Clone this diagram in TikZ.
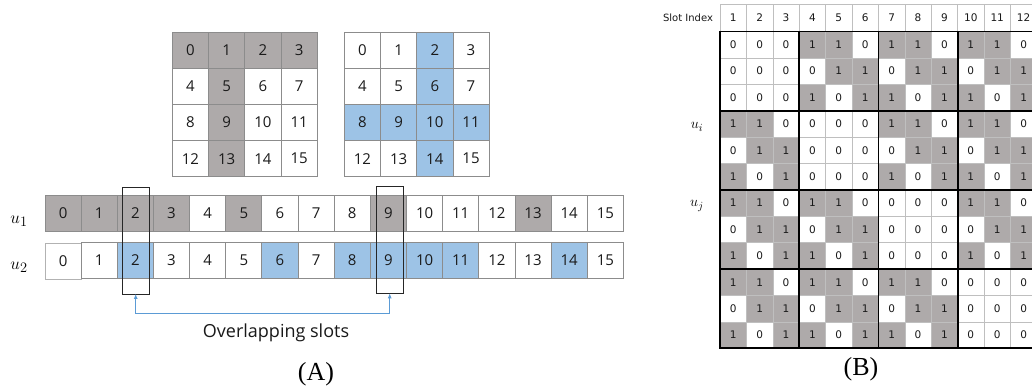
\documentclass[tikz,border=0pt]{standalone}
\usepackage{fontspec}
\setmainfont{Liberation Serif}
\newfontfamily\cellfont{Open Sans}
\newfontfamily\bfont{DejaVu Sans}
\usetikzlibrary{arrows.meta}
\definecolor{gcell}{HTML}{AEAAAA}
\definecolor{bcell}{HTML}{9DC3E6}
\definecolor{cline}{HTML}{8C8C8C}
\definecolor{arrowc}{HTML}{5B9BD5}
\definecolor{bline}{HTML}{BFBFBF}
\definecolor{txt}{HTML}{1A1A1A}
\tikzset{
  cellA/.style={draw=cline, line width=0.8pt, minimum width=36.2pt, minimum height=36.1pt,
    inner sep=0pt, outer sep=0pt, text=txt, font=\cellfont\fontsize{15}{18}\selectfont},
  fillA0/.style={fill=white},
  fillA1/.style={fill=gcell},
  fillB0/.style={fill=white},
  fillB1/.style={fill=bcell},
  cellB/.style={draw=bline, line width=0.6pt, minimum width=26.4pt, minimum height=26.4pt,
    inner sep=0pt, outer sep=0pt, text=black!90, font=\bfont\fontsize{10.5}{12}\selectfont},
  fillM0/.style={fill=white},
  fillM1/.style={fill=gcell},
  headB/.style={draw=bline, line width=0.6pt, minimum width=26.4pt, minimum height=27.5pt,
    inner sep=0pt, outer sep=0pt, text=black!90, font=\bfont\fontsize{10.5}{12}\selectfont},
  ovbox/.style={draw=black!85, line width=0.8pt, inner sep=0pt, outer sep=0pt},
  ulabel/.style={font=\fontsize{19}{22}\selectfont, inner sep=0pt},
  uBlabel/.style={font=\fontsize{15}{18}\selectfont, inner sep=0pt},
  caption/.style={font=\fontsize{26}{30}\selectfont, inner sep=0pt},
  thick grid/.style={line width=1.8pt, black}
}
\begin{document}
\begin{tikzpicture}[x=1pt,y=-1pt]
\useasboundingbox (0,0) rectangle (1032,387);
\fill[white] (0,0) rectangle (1032,387);

% ---------- (A) top grids ----------
\foreach \i in {0,...,15}{
  \pgfmathtruncatemacro\r{int(\i/4)}
  \pgfmathtruncatemacro\c{mod(\i,4)}
  \pgfmathtruncatemacro\g{(\r==0)||(\c==1)}
  \pgfmathtruncatemacro\bl{(\r==2)||(\c==2)}
  \node[cellA, fillA\g] (ga-\i) at ({172.3+(\c+0.5)*36.25},{32.3+(\r+0.5)*36.1}) {\i};
  \node[cellA, fillB\bl] (gb-\i) at ({344.3+(\c+0.5)*36.2},{32.3+(\r+0.5)*36.1}) {\i};
}

% ---------- (A) rows ----------
\foreach \i in {0,...,15}{
  \pgfmathtruncatemacro\g{(\i<4)||(\i==5)||(\i==9)||(\i==13)}
  \pgfmathtruncatemacro\bl{(\i==2)||(\i==6)||(\i==8)||(\i==9)||(\i==10)||(\i==11)||(\i==14)}
  \node[cellA, fillA\g] (ra-\i) at ({45+(\i+0.5)*36.15},213.4) {\i};
  \ifnum\i=0
    \node[cellA, fillB\bl, draw=black!30] (rb-\i) at ({45+(\i+0.5)*36.15},261.3) {\i};
  \else
    \node[cellA, fillB\bl] (rb-\i) at ({45+(\i+0.5)*36.15},260.5) {\i};
  \fi
}
\node[ulabel] (u1) at (19,221) {$u_1$};
\node[ulabel] (u2) at (19,267) {$u_2$};

% overlap boxes
\node[ovbox, minimum width=26.7pt, minimum height=106.7pt] (ov1) at (135.7,240.6) {};
\node[ovbox, minimum width=27.3pt, minimum height=106.6pt] (ov2) at (389.7,240.0) {};
\draw[arrowc, line width=0.9pt, {Latex[length=5pt,width=4pt]}-{Latex[length=5pt,width=4pt]}]
  (ov1.south) -- ++(0,19) -| (ov2.south);
\node[font=\cellfont\fontsize{18}{21}\selectfont, text=black!90] (ovl) at (276,332.5) {Overlapping slots};
\node[caption] (capA) at (316,374) {(A)};

% ---------- (B) ----------
\node[font=\bfont\fontsize{10}{12}\selectfont, text=black!90, inner sep=0pt] (slot) at (688,17.5) {Slot Index};
\begin{scope}
\clip (0,0) rectangle (1032,387);
\foreach \c in {1,...,12}{
  \node[headB] (h-\c) at ({720+(\c-0.5)*26.4},17.75) {\c};
}
\foreach \r in {0,...,11}{
  \foreach \c in {0,...,11}{
    \pgfmathtruncatemacro\v{(int(\r/3)!=int(\c/3)) && (mod(\c,3)!=mod(mod(\r,3)+2,3))}
    \node[cellB, fillM\v] (m-\r-\c) at ({720+(\c+0.5)*26.4},{31.5+(\r+0.5)*26.4}) {\v};
  }
}
\foreach \k in {0,3,6,9,12}{
  \draw[thick grid] ({720+\k*26.4},31.5) -- ({720+\k*26.4},{31.5+12*26.4});
  \draw[thick grid] (719.1,{31.5+\k*26.4}) -- ({720+12*26.4},{31.5+\k*26.4});
}
\end{scope}
\node[uBlabel] (ui) at (697,127) {$u_i$};
\node[uBlabel] (uj) at (697,206) {$u_j$};
\node[caption] (capB) at (861,369) {(B)};
\end{tikzpicture}
\end{document}
